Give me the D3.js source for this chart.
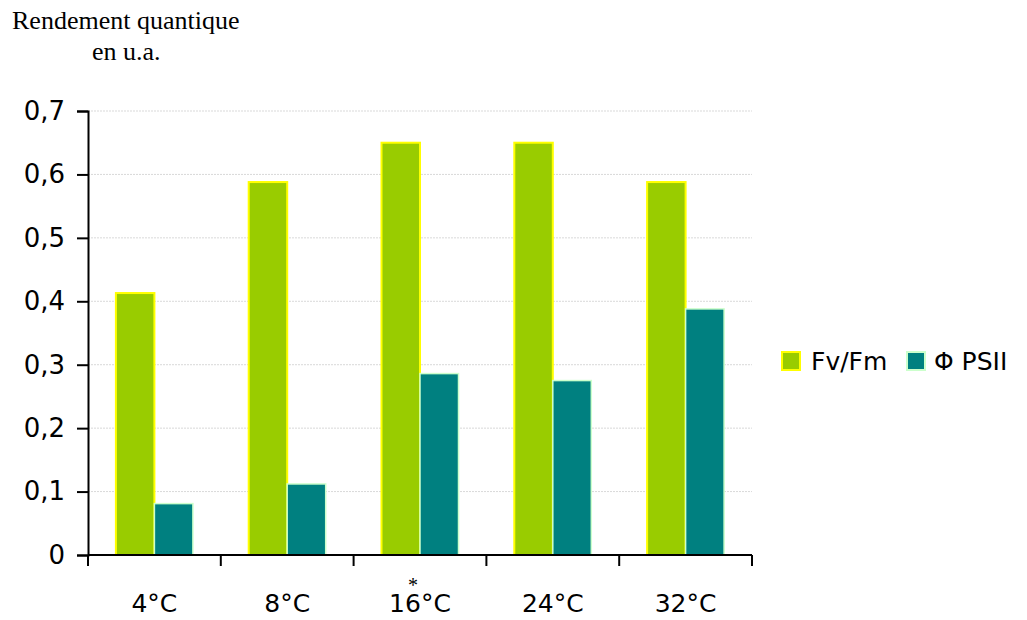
<!DOCTYPE html>
<html>
<head>
<meta charset="utf-8">
<script src="https://cdn.jsdelivr.net/npm/d3@7"></script>
<style>
  body { margin: 0; background: #fff; }
  svg { display: block; }
</style>
</head>
<body>
<svg id="chart" width="1027" height="620"></svg>
<script>
// data
const categories = ['4°C', '8°C', '16°C', '24°C', '32°C'];
const seriesNames = ['Fv/Fm', 'Φ PSII'];
const fvfm = [0.413, 0.588, 0.650, 0.650, 0.588];
const phiPSII = [0.081, 0.112, 0.286, 0.275, 0.388];
const yTicks = [0, 0.1, 0.2, 0.3, 0.4, 0.5, 0.6, 0.7];
const yTickLabels = ['0', '0,1', '0,2', '0,3', '0,4', '0,5', '0,6', '0,7'];

// styles
const fills = ['#99cc00', '#008080'];
const strokes = ['#ffff00', '#ccffcc'];
const labelFont = '"Comic Sans MS", "DejaVu Sans", sans-serif';

const svg = d3.select('#chart');
const plot = { left: 88, right: 752, top: 111, bottom: 555 };

const x0 = d3.scaleBand()
  .domain(categories)
  .range([plot.left, plot.right])
  .padding(0);

const groupWidth = 77;
const x1 = d3.scaleBand()
  .domain(seriesNames)
  .range([0, groupWidth])
  .padding(0);

const y = d3.scaleLinear()
  .domain([0, 0.7])
  .range([plot.bottom, plot.top]);

// title
const title = svg.append('text')
  .attr('font-family', '"Liberation Serif", "Times New Roman", serif')
  .attr('font-size', 26)
  .attr('fill', '#000');
title.append('tspan').attr('x', 12).attr('y', 29).text('Rendement quantique');
title.append('tspan').attr('x', 92).attr('y', 60).text('en u.a.');

// gridlines
svg.append('g')
  .selectAll('line')
  .data(yTicks.slice(1))
  .enter()
  .append('line')
  .attr('x1', plot.left)
  .attr('x2', plot.right)
  .attr('y1', d => y(d))
  .attr('y2', d => y(d))
  .attr('stroke', '#d9d9d9')
  .attr('stroke-width', 1)
  .attr('stroke-dasharray', '2,1');

// bars
const data = categories.map((c, i) => ({ cat: c, values: [fvfm[i], phiPSII[i]] }));
const groups = svg.append('g')
  .selectAll('g')
  .data(data)
  .enter()
  .append('g')
  .attr('transform', d => `translate(${x0(d.cat) + x0.bandwidth() / 2 - groupWidth / 2},0)`);

groups.selectAll('rect')
  .data(d => d.values.map((v, k) => ({ name: seriesNames[k], value: v, k })))
  .enter()
  .append('rect')
  .attr('x', d => x1(d.name))
  .attr('y', d => y(d.value))
  .attr('width', x1.bandwidth())
  .attr('height', d => y(0) - y(d.value))
  .attr('fill', d => fills[d.k])
  .attr('stroke', d => strokes[d.k])
  .attr('stroke-width', d => d.k === 0 ? 2 : 1.5);

// y axis
const yAxis = d3.axisLeft(y)
  .tickValues(yTicks)
  .tickFormat((d, i) => yTickLabels[i])
  .tickSize(11)
  .tickPadding(12);

const yG = svg.append('g')
  .attr('transform', `translate(${plot.left},0)`)
  .call(yAxis);
yG.select('.domain').attr('stroke', '#000').attr('stroke-width', 2);
yG.selectAll('.tick line').attr('stroke', '#000').attr('stroke-width', 2);
yG.selectAll('.tick text')
  .attr('font-family', '"DejaVu Sans", Verdana, sans-serif')
  .attr('font-size', 26)
  .attr('fill', '#000');

// x axis: ticks at band boundaries
const xG = svg.append('g')
  .attr('transform', `translate(0,${plot.bottom})`);
xG.append('line')
  .attr('x1', plot.left)
  .attr('x2', plot.right)
  .attr('stroke', '#000')
  .attr('stroke-width', 2);
const boundaries = categories.map(c => x0(c)).concat([plot.right]);
xG.selectAll('.xtick')
  .data(boundaries)
  .enter()
  .append('line')
  .attr('class', 'xtick')
  .attr('x1', d => d)
  .attr('x2', d => d)
  .attr('y1', 0)
  .attr('y2', 11)
  .attr('stroke', '#000')
  .attr('stroke-width', 2);
xG.selectAll('.xlabel')
  .data(categories)
  .enter()
  .append('text')
  .attr('class', 'xlabel')
  .attr('x', d => x0(d) + x0.bandwidth() / 2)
  .attr('y', 57)
  .attr('text-anchor', 'middle')
  .attr('font-family', labelFont)
  .attr('font-size', 25)
  .attr('fill', '#000')
  .text(d => d);

// asterisk above 16°C
svg.append('text')
  .attr('x', x0('16°C') + x0.bandwidth() / 2 - 7)
  .attr('y', 592)
  .attr('text-anchor', 'middle')
  .attr('font-family', '"Liberation Serif", serif')
  .attr('font-size', 20)
  .attr('fill', '#000')
  .text('*');

// legend
const legendItems = [
  { name: seriesNames[0], x: 782 },
  { name: seriesNames[1], x: 907 }
];
const legend = svg.append('g')
  .selectAll('g')
  .data(legendItems)
  .enter()
  .append('g')
  .attr('transform', d => `translate(${d.x},352)`);
legend.append('rect')
  .attr('width', 18)
  .attr('height', 18)
  .attr('fill', (d, i) => fills[i])
  .attr('stroke', (d, i) => strokes[i])
  .attr('stroke-width', 2);
legend.append('text')
  .attr('x', (d, i) => i === 0 ? 29 : 27)
  .attr('y', 18)
  .attr('font-family', labelFont)
  .attr('font-size', 25)
  .attr('fill', '#000')
  .text(d => d.name);
</script>
</body>
</html>
